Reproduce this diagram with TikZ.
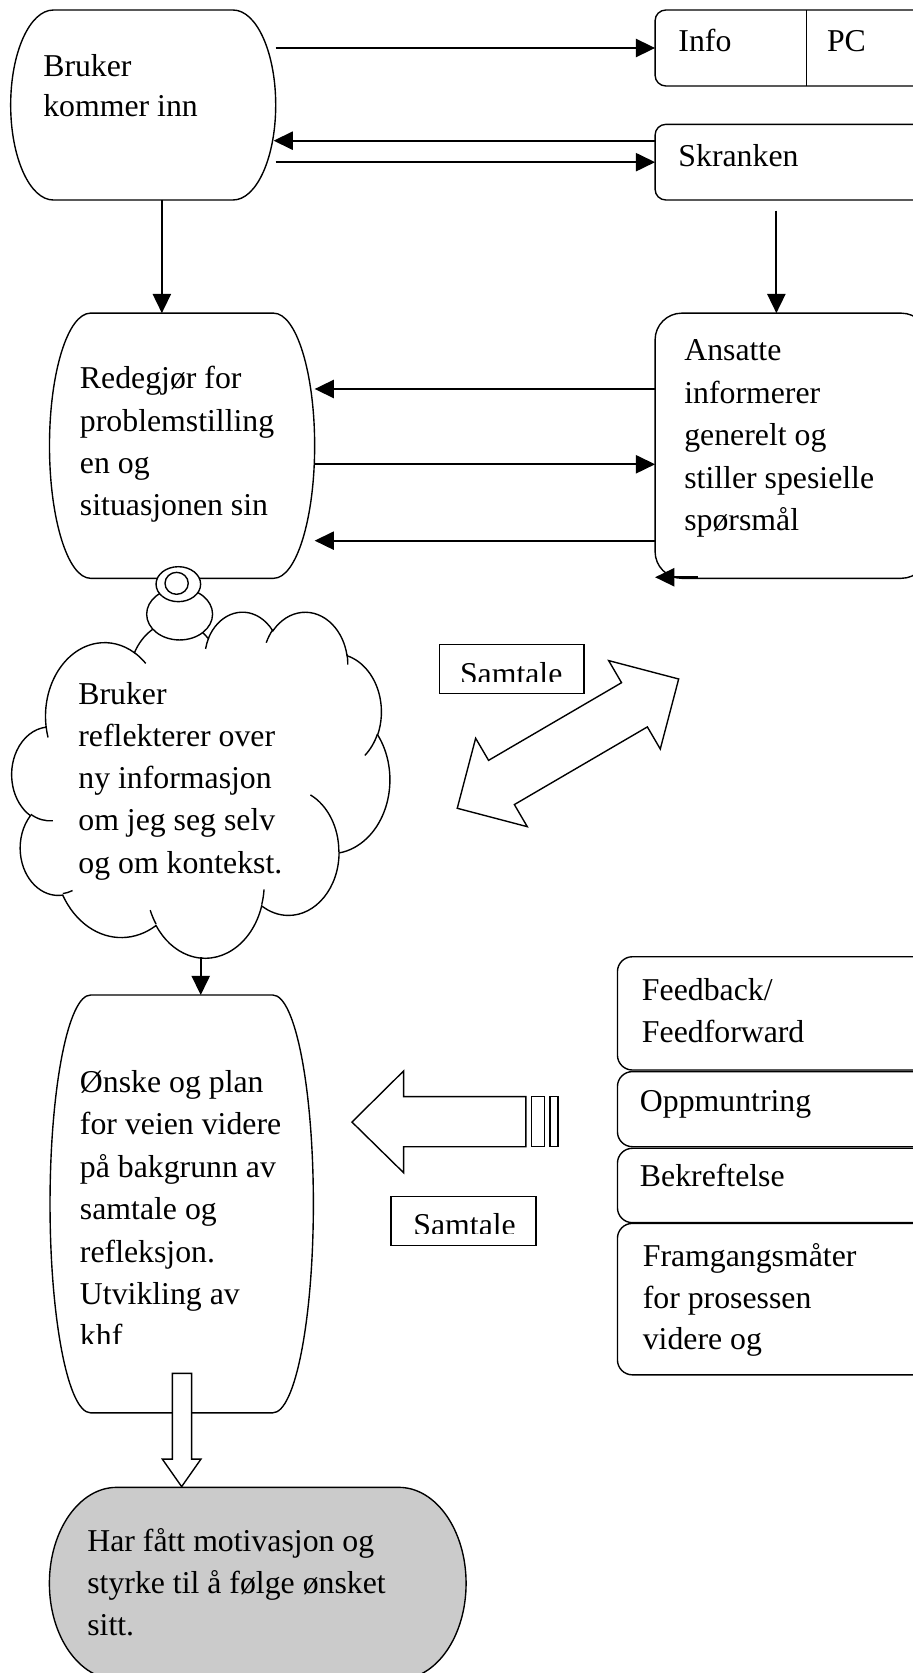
\documentclass[tikz,border=0pt]{standalone}
\usepackage{fontspec}
\setmainfont{Liberation Serif}
\usetikzlibrary{arrows.meta}
\definecolor{endfill}{HTML}{CBCBCB}
% multi-line left-aligned text whose baseline is the first line
\newcommand\ml[1]{\begin{tabular}[t]{@{}l@{}}#1\end{tabular}}

\begin{document}
\begin{tikzpicture}[x=1pt, y=1pt,
  outline/.style={line width=1.3pt, draw=black},
  anchorbox/.style={rectangle, inner sep=0pt, outer sep=0pt, draw=none},
  rbox/.style={outline, rectangle, inner sep=0pt, outer sep=0pt, fill=white},
  conn/.style={line width=1.8pt, -{Triangle[length=18pt, width=17pt]}},
  txt/.style={inner sep=0pt, outer sep=0pt, anchor=base west,
              font=\fontsize{29.8}{39.6}\selectfont},
]
\useasboundingbox (0,0) rectangle (856,-1568.55);
\clip (0,0) rectangle (856,-1568.55);

% terminator: flat top and bottom, half-elliptic ends
% #1 name, #2 left, #3 top, #4 right, #5 bottom, #6 end width, #7 fill
\newcommand\termshape[7]{%
  \draw[outline, fill=#7] ({#2+#6},-#3) -- ({#4-#6},-#3)
    arc[start angle=90, end angle=-90, x radius=#6, y radius={(#5-#3)/2}]
    -- ({#2+#6},-#5)
    arc[start angle=-90, end angle=-270, x radius=#6, y radius={(#5-#3)/2}] -- cycle;
  \node[anchorbox, minimum width={(#4-#2)*1pt}, minimum height={(#5-#3)*1pt}]
    (#1) at ({(#2+#4)/2},{-(#3+#5)/2}) {};
}

% ---------- boxes ----------
\termshape{bruker}{10}{9.4}{258.5}{187.5}{40}{white}
\termshape{redeg}{46.4}{293.6}{295}{542.2}{38.5}{white}
\termshape{oenske}{46.9}{932.9}{293.8}{1324.6}{38}{white}
\termshape{motiv}{46.3}{1394.5}{437}{1574.5}{63}{endfill}

\node[rbox, rounded corners=10pt, minimum width=255.8pt, minimum height=71.2pt] (info) at (742.1,-45) {};
\draw[outline] (756.3,0 |- info.north) -- (756.3,0 |- info.south);
\node[rbox, rounded corners=10pt, minimum width=255.8pt, minimum height=70.9pt] (skranken) at (742.1,-152.05) {};
\node[rbox, rounded corners=25pt, minimum width=255.8pt, minimum height=248.6pt] (ansatte) at (742.1,-417.9) {};

\node[rbox, rounded corners=14pt, minimum width=291.1pt, minimum height=106.2pt] (feedback) at (724.45,-950.1) {};
\node[rbox, rounded corners=14pt, minimum width=291.1pt, minimum height=70.4pt] (oppm) at (724.45,-1039.9) {};
\node[rbox, rounded corners=14pt, minimum width=291.1pt, minimum height=69.7pt] (bekr) at (724.45,-1111.45) {};
\node[rbox, rounded corners=14pt, minimum width=291.1pt, minimum height=142pt] (framg) at (724.45,-1218) {};

\node[rbox, minimum width=135.4pt, minimum height=46pt] (samtaleA) at (480,-627) {};
\node[rbox, minimum width=135.9pt, minimum height=46pt] (samtaleB) at (434.55,-1145) {};

% ---------- thought cloud ----------
\gdef\cloudarcs{}
\foreach \qa/\qb/\qc/\qd in {
  6.753/9.190/-190.48748/123.78053, 5.333/7.267/-144.10238/89.94523,
  4.365/5.945/-145.80792/99.72302, 4.857/6.595/-130.98607/117.24173,
  5.333/7.273/-78.70888/109.02692, 6.775/9.220/-46.26725/130.26900,
  5.785/7.867/0.62502/114.03333, 6.752/9.215/22.45160/115.17255,
  7.720/10.543/66.24263/75.71102, 4.360/5.918/-274.94208/146.73557,
  4.345/5.945/-246.82850/152.51885}{%
  \pgfmathsetmacro\cTs{atan2(\qa*sin(\qc),\qb*cos(\qc))}%
  \pgfmathsetmacro\cTe{atan2(\qa*sin(\qc+\qd),\qb*cos(\qc+\qd))}%
  \pgfmathsetmacro\cDd{\cTe-\cTs}%
  \pgfmathsetmacro\cDd{\cDd-360*floor(\cDd/360)}%
  \pgfmathsetmacro\cMs{0-(\cTs)}%
  \pgfmathsetmacro\cMd{0-(\cDd)}%
  \pgfmathsetmacro\cRx{\qa*8.1995}%
  \pgfmathsetmacro\cRy{\qb*7.5086}%
  \xdef\cloudarcs{\cloudarcs arc[start angle=\cMs, delta angle=\cMd, x radius=\cRx, y radius=\cRy]}%
}
\gdef\cloudtails{}
\foreach \qx/\qy/\qa/\qb/\qc/\qd in {
  4.693/26.177/4.345/5.945/86.742/26.4295,
  6.928/34.899/4.360/5.918/73.6105/11.4475,
  16.478/39.090/6.752/9.215/137.6241/14.0811,
  28.827/34.751/6.752/9.215/6.4533/15.9984,
  34.129/22.954/5.785/7.867/-70.2924/70.9174,
  41.798/15.354/5.333/7.273/30.3180/27.7515,
  38.324/5.426/4.857/6.595/-13.7443/14.8589,
  29.078/3.952/4.857/6.595/-149.1815/18.1954,
  22.141/4.720/4.365/5.945/-163.4943/17.6864,
  14.000/5.192/6.753/9.190/-66.7070/12.3194,
  4.127/15.789/6.753/9.190/157.6544/11.8582}{%
  \pgfmathsetmacro\cTs{atan2(\qa*sin(\qc),\qb*cos(\qc))}%
  \pgfmathsetmacro\cTe{atan2(\qa*sin(\qc+\qd),\qb*cos(\qc+\qd))}%
  \pgfmathsetmacro\cDd{\cTe-\cTs}%
  \pgfmathsetmacro\cDd{\cDd-360*floor(\cDd/360)}%
  \pgfmathsetmacro\cMs{0-(\cTs)}%
  \pgfmathsetmacro\cMd{0-(\cDd)}%
  \pgfmathsetmacro\cRx{\qa*8.1995}%
  \pgfmathsetmacro\cRy{\qb*7.5086}%
  \pgfmathsetmacro\cPx{11.2+\qx*8.1995}%
  \pgfmathsetmacro\cPy{0-(572.9+\qy*7.5086)}%
  \xdef\cloudtails{\cloudtails (\cPx,\cPy) arc[start angle=\cMs, delta angle=\cMd, x radius=\cRx, y radius=\cRy]}%
}
\draw[outline, fill=white] (43.178,-680.799) \cloudarcs -- cycle;
\draw[outline] \cloudtails;
\coordinate (cloudbottom) at (188.2,-897.5);

% thought bubbles
\draw[outline, fill=white] (168.4,-575.8) ellipse [x radius=30.9, y radius=24.2];
\draw[outline, fill=white] (167.2,-547.7) ellipse [x radius=20.9, y radius=16.4];
\draw[outline] (165.6,-546.9) ellipse [x radius=10.9, y radius=10.3];

% ---------- block arrows ----------
\begin{scope}[shift={(532.5,-697.2)}, rotate=30.28]
  \draw[outline, fill=white] (-120.2,0) -- (-72.2,48) -- (-72.2,24) -- (72.2,24)
    -- (72.2,48) -- (120.2,0) -- (72.2,-48) -- (72.2,-24) -- (-72.2,-24)
    -- (-72.2,-48) -- cycle;
\end{scope}
\draw[outline, fill=white] (330,-1052) -- (378.4,-1004.1) -- (378.4,-1028.2)
  -- (493.1,-1028.2) -- (493.1,-1075.1) -- (378.4,-1075.1) -- (378.4,-1099.5) -- cycle;
\draw[outline] (498.2,-1028.2) rectangle (510.3,-1075.1);
\draw[outline] (515.8,-1028.2) rectangle (523.1,-1075.1);
\draw[outline, fill=white] (161.6,-1287.6) -- (179.7,-1287.6) -- (179.7,-1368)
  -- (188.4,-1368) -- (170.3,-1393.8) -- (152.2,-1368) -- (161.6,-1368) -- cycle;

% ---------- texts ----------
\node[txt, font=\fontsize{29.8}{37.5}\selectfont] (tbruker) at (40.6,-71.3) {\ml{Bruker\\kommer inn}};
\node[txt] (tinfo) at (636.1,-48.4) {Info};
\node[txt] (tpc) at (775.4,-48.4) {PC};
\node[txt] (tskranken) at (636.1,-156.3) {Skranken};
\node[txt] (tredeg) at (75,-364.7) {\ml{Redegjør for\\problemstilling\\en og\\situasjonen sin}};
\node[txt, font=\fontsize{29.8}{39.8}\selectfont] (tansatte) at (641.6,-338.2) {\ml{Ansatte\\informerer\\generelt og\\stiller spesielle\\spørsmål}};
\node[txt] (tcloud) at (73.5,-660.3) {\ml{Bruker\\reflekterer over\\ny informasjon\\om jeg seg selv\\og om kontekst.}};
\begin{scope}
  \clip (400,-600) rectangle (560,-639);
  \node[txt] (tsamtaleA) at (431.3,-641.5) {Samtale};
\end{scope}
\begin{scope}
  \clip (40,-980) rectangle (300,-1260);
  \node[txt, font=\fontsize{29.8}{39.7}\selectfont] (toenske) at (75,-1024.4) {\ml{Ønske og plan\\for veien videre\\på bakgrunn av\\samtale og\\refleksjon.\\Utvikling av\\khf}};
\end{scope}
\begin{scope}
  \clip (360,-1120) rectangle (510,-1156.3);
  \node[txt] (tsamtaleB) at (387.6,-1158.8) {Samtale};
\end{scope}
\node[txt, font=\fontsize{29.8}{39.1}\selectfont] (tfeedback) at (601.9,-938.2) {\ml{Feedback/\\Feedforward}};
\node[txt] (toppm) at (600,-1042.2) {Oppmuntring};
\node[txt] (tbekr) at (600,-1112.5) {Bekreftelse};
\node[txt, font=\fontsize{29.8}{39.1}\selectfont] (tframg) at (602.7,-1187.5) {\ml{Framgangsmåter\\for prosessen\\videre og}};
\node[txt, font=\fontsize{29.8}{39.3}\selectfont] (tmotiv) at (81.9,-1454.8) {\ml{Har fått motivasjon og\\styrke til å følge ønsket\\sitt.}};

% ---------- connectors ----------
\draw[conn] (bruker.east |- info.west) -- (info.west);
\draw[conn] ([yshift=20.15pt]skranken.west) -- ([yshift=20.15pt, xshift=-2pt]skranken.west -| bruker.east);
\draw[conn] (skranken.west -| bruker.east) -- (skranken.west);
\draw[conn] ([xshift=17.5pt]bruker.south) -- ([xshift=17.5pt]bruker.south |- redeg.north);
\draw[conn] ([xshift=-14.2pt, yshift=-10pt]skranken.south) -- ([xshift=-14.2pt]skranken.south |- ansatte.north);
\draw[conn] ([yshift=53.2pt]ansatte.west) -- ([yshift=53.2pt]ansatte.west -| redeg.east);
\draw[conn] ([yshift=-17.4pt]redeg.east) -- ([yshift=-17.4pt]redeg.east -| ansatte.west);
\draw[conn] ([yshift=-89pt]ansatte.west) -- ([yshift=-89pt]ansatte.west -| redeg.east);
\draw[conn] ([xshift=40pt, yshift=1pt]ansatte.south west) -- ([yshift=1pt]ansatte.south west);
\draw[conn] (cloudbottom) -- (cloudbottom |- oenske.north);

\end{tikzpicture}
\end{document}
